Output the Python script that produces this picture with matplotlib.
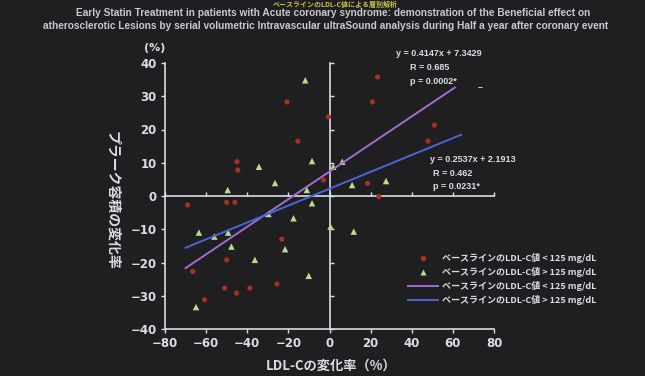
import matplotlib
matplotlib.use("Agg")
import matplotlib.pyplot as plt
from matplotlib.lines import Line2D

# LDL-C change (%) vs plaque volume change (%)
red_x = [-20.7, -0.5, -15.4, -45.0, -44.6, -2.9, 23.4, 20.9, 51.0, 47.9, 18.5, 24.0,
         -69.0, -50.0, -46.0, -23.2, -50.0, -66.5, -25.6, -51.0, -38.7, -45.2, -60.8]
red_y = [28.3, 23.8, 16.5, 10.3, 7.8, 4.8, 35.8, 28.3, 21.3, 16.5, 3.8, -0.2,
         -2.7, -1.9, -1.9, -13.0, -19.2, -22.7, -26.5, -27.7, -27.7, -29.2, -31.2]
green_x = [-11.8, -8.5, -34.3, -26.5, -49.5, 1.8, 6.2, 11.0, 27.5, 0.5, 11.8,
           -11.0, -8.5, -29.7, -17.5, -63.5, -56.0, -49.3, -47.7, -21.6, -36.3, -10.1, -64.9]
green_y = [34.8, 10.5, 8.8, 3.9, 1.8, 8.8, 10.3, 3.3, 4.5, -9.2, -10.7,
           1.8, -2.2, -5.4, -6.7, -11.0, -12.2, -11.0, -15.2, -16.0, -19.2, -24.0, -33.4]

# regression lines (slope, intercept, x range)
fit_low = (0.4147, 7.3429, [-70, 61])
fit_high = (0.2537, 2.1913, [-70, 64])

legend_labels = [
    "ベースラインのLDL-C値 < 125 mg/dL",
    "ベースラインのLDL-C値 > 125 mg/dL",
    "ベースラインのLDL-C値 < 125 mg/dL",
    "ベースラインのLDL-C値 > 125 mg/dL",
]
x_ticks = [-80, -60, -40, -20, 0, 20, 40, 60, 80]
y_ticks = [-40, -30, -20, -10, 0, 10, 20, 30, 40]

BG = "#1f1f21"
FG = "#dcdce4"
RED = "#a8301e"
GREEN = "#b6dc8c"
PURPLE = "#a46cd2"
BLUE = "#4a64d8"
JP = ["Noto Sans CJK JP", "DejaVu Sans"]

fig = plt.figure(figsize=(6.45, 3.76), dpi=100, facecolor=BG)
ax = fig.add_axes([165 / 645, 1 - 329 / 376, 329 / 645, 266 / 376], facecolor=BG)

ax.scatter(red_x, red_y, s=14, marker="o", color=RED, edgecolors="none", zorder=3)
ax.scatter(green_x, green_y, s=22, marker="^", color=GREEN, edgecolors="none", zorder=3)

for (m, b, xr), col in [(fit_low, PURPLE), (fit_high, BLUE)]:
    ax.plot(xr, [m * xr[0] + b, m * xr[1] + b], color=col, lw=1.4, zorder=4)

ax.set_xlim(-80, 80)
ax.set_ylim(-40, 40)
ax.set_xticks(x_ticks)
ax.set_yticks(y_ticks)

# inner axes crossing at zero
ax.spines["right"].set_position(("data", 0))
ax.spines["top"].set_position(("data", 0))
for s in ax.spines.values():
    s.set_color(FG)
    s.set_linewidth(1.2)
ax.tick_params(axis="both", colors=FG, direction="out", length=3, width=1,
               top=True, right=True, labeltop=False, labelright=False,
               labelsize=8.5, pad=3)
for lab in ax.get_xticklabels() + ax.get_yticklabels():
    lab.set_fontweight("bold")

ax.text(-80, 43, "(%)", ha="right", va="bottom", fontsize=8, fontweight="bold",
        color=FG, clip_on=False)

fig.text(112 / 645, 1 - 200 / 376, "プラーク容積の変化率", rotation=270,
         ha="center", va="center", fontsize=10, fontweight="bold", color=FG, family=JP)
fig.text(331 / 645, 1 - 366 / 376, "LDL-Cの変化率（%）", ha="center", va="center",
         fontsize=9.5, fontweight="bold", color=FG, family=JP)

# equations
def px(x, y):
    return (x / 645, 1 - y / 376)

eq_kw = dict(fontsize=6.5, fontweight="bold", color=FG, family="Liberation Sans", va="center")
fig.text(*px(439, 54), "y = 0.4147x + 7.3429", ha="center", **eq_kw)
fig.text(*px(410, 68), "R = 0.685", ha="left", **eq_kw)
fig.text(*px(410, 81), "p = 0.0002*", ha="left", **eq_kw)
fig.text(*px(480, 88), "–", ha="center", **eq_kw)
fig.text(*px(473, 159), "y = 0.2537x + 2.1913", ha="center", **eq_kw)
fig.text(*px(433, 174), "R = 0.462", ha="left", **eq_kw)
fig.text(*px(433, 186), "p = 0.0231*", ha="left", **eq_kw)

handles = [
    Line2D([], [], ls="none", marker="o", ms=4, color=RED, mec="none"),
    Line2D([], [], ls="none", marker="^", ms=4.5, color=GREEN, mec="none"),
    Line2D([], [], color=PURPLE, lw=1.4),
    Line2D([], [], color=BLUE, lw=1.4),
]
leg = fig.legend(handles, legend_labels, loc="center left",
                 bbox_to_anchor=(400 / 645, 1 - 279 / 376), frameon=False,
                 handlelength=3.3, handletextpad=0.4, labelspacing=0.45,
                 prop={"family": JP, "size": 6.5, "weight": "bold"})
for t in leg.get_texts():
    t.set_color(FG)

title_kw = dict(ha="center", va="center", fontsize=7.3, fontweight="bold",
                color="#c8c8d0", family="Liberation Sans")
fig.text(*px(333, 13), "Early Statin Treatment in patients with Acute coronary syndrome: "
         "demonstration of the Beneficial effect on", **title_kw)
fig.text(*px(326, 26), "atherosclerotic Lesions by serial volumetric Intravascular "
         "ultraSound analysis during Half a year after coronary event", **title_kw)
fig.text(*px(335, 0.5), "ベースラインのLDL-C値による層別解析", ha="center", va="top",
         fontsize=5, fontweight="bold", color="#c8c048", family=JP)

fig.savefig("out.png", dpi=100, facecolor=BG)
